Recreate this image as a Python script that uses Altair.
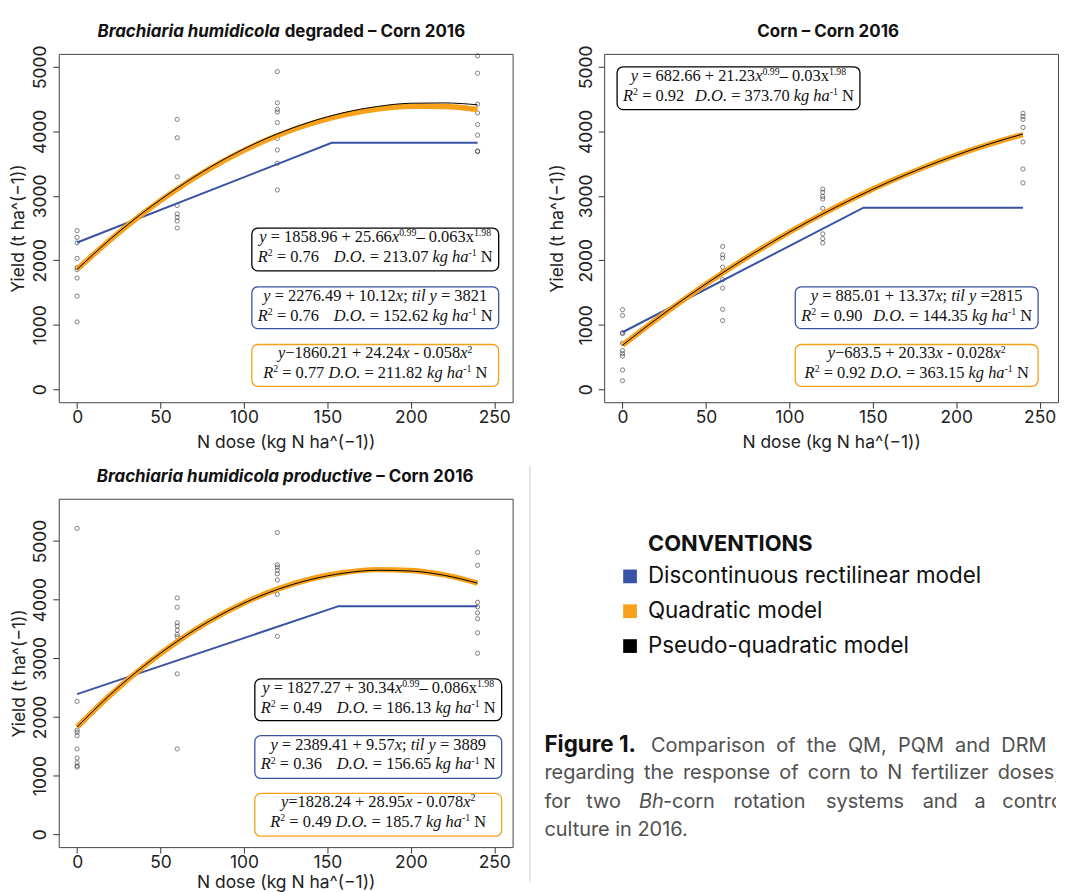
import altair as alt
import pandas as pd

# ---------------- data ----------------
DOSE_LEVELS = [0, 60, 120, 240]
CURVE_X = [0, 20, 40, 60, 80, 100, 120, 140, 160, 180, 200, 220, 240]

# Panel A: Brachiaria humidicola degraded - Corn 2016
a_d0 = [2460, 2355, 2270, 2030, 1885, 1855, 1725, 1445, 1045]
a_d60 = [4185, 3900, 3295, 2850, 2720, 2665, 2610, 2500]
a_d120 = [4925, 4440, 4340, 4300, 4135, 3890, 3710, 3505, 3090]
a_d240 = [5170, 4900, 4420, 4285, 4105, 3940, 3695, 3685]
a_quad = [1860, 2322, 2737, 3106, 3428, 3704, 3934, 4117, 4254, 4344, 4388, 4386, 4337]
a_pseudo = [1859, 2330, 2750, 3120, 3447, 3727, 3960, 4148, 4290, 4385, 4435, 4440, 4410]
a_drm_x = [0, 152.6, 240]
a_drm_y = [2276, 3821, 3821]

# Panel B: Corn - Corn 2016
b_d0 = [1235, 1145, 880, 865, 715, 600, 555, 515, 300, 135]
b_d60 = [2215, 2085, 2035, 1895, 1820, 1700, 1570, 1240, 1065]
b_d120 = [3105, 3055, 2990, 2950, 2805, 2410, 2335, 2270]
b_d240 = [4280, 4230, 4185, 4060, 3835, 3415, 3200]
b_quad = [684, 1079, 1452, 1803, 2131, 2437, 2720, 2981, 3220, 3436, 3630, 3801, 3950]
b_pseudo = [683, 1083, 1457, 1806, 2132, 2437, 2719, 2979, 3218, 3435, 3630, 3805, 3958]
b_drm_x = [0, 144.4, 240]
b_drm_y = [885, 2815, 2815]

# Panel C: Brachiaria humidicola productive - Corn 2016
c_d0 = [5215, 2265, 1775, 1740, 1680, 1455, 1300, 1220, 1165, 1145]
c_d60 = [4030, 3870, 3605, 3550, 3480, 3405, 3365, 2735, 1455]
c_d120 = [5145, 4595, 4555, 4500, 4440, 4335, 4090, 3375]
c_d240 = [4805, 4585, 3955, 3875, 3775, 3675, 3435, 3085]
c_quad = [1828, 2376, 2861, 3284, 3645, 3943, 4179, 4352, 4463, 4512, 4498, 4422, 4283]
c_pseudo = [1827, 2384, 2869, 3289, 3646, 3941, 4173, 4343, 4452, 4501, 4488, 4415, 4281]
c_drm_x = [0, 156.7, 240]
c_drm_y = [2389, 3889, 3889]

# equation texts as (text, style) segments: r = roman, i = italic, s = superscript
R2 = [("R", "i"), ("2", "s")]
KG = [("kg ha", "i"), ("-1", "s"), (" N", "r")]


def pq_eq(a, b, c):
    return [("y", "i"), (" = " + a + " + " + b, "r"), ("x", "i"), ("0.99", "s"),
            ("\u2013 " + c + "x", "r"), ("1.98", "s")]


def drm_eq(a, b, plateau, eq=" = "):
    return [("y", "i"), (" = " + a + " + " + b, "r"), ("x", "i"), ("; ", "r"),
            ("til y", "i"), (eq + plateau, "r")]


def q_eq(sep, a, b, c):
    return [("y", "i"), (sep + a + " + " + b, "r"), ("x", "i"), (" - " + c, "r"),
            ("x", "i"), ("2", "s")]


def r2_left(v):
    return R2 + [(" = " + v, "r")]


def do_right(v):
    return [("D.O.", "i"), (" = " + v + " ", "r")] + KG


def q_line2(r, v):
    return R2 + [(" = " + r + " ", "r"), ("D.O.", "i"), (" = " + v + " ", "r")] + KG


a_eq = [
    [pq_eq("1858.96", "25.66", "0.063"), r2_left("0.76"), do_right("213.07")],
    [drm_eq("2276.49", "10.12", "3821"), r2_left("0.76"), do_right("152.62")],
    [q_eq("\u2212", "1860.21", "24.24", "0.058"), q_line2("0.77", "211.82")],
]
b_eq = [
    [pq_eq("682.66", "21.23", "0.03"), r2_left("0.92"), do_right("373.70")],
    [drm_eq("885.01", "13.37", "2815", eq=" ="), r2_left("0.90"), do_right("144.35")],
    [q_eq("\u2212", "683.5", "20.33", "0.028"), q_line2("0.92", "363.15")],
]
c_eq = [
    [pq_eq("1827.27", "30.34", "0.086"), r2_left("0.49"), do_right("186.13")],
    [drm_eq("2389.41", "9.57", "3889"), r2_left("0.36"), do_right("156.65")],
    [q_eq("=", "1828.24", "28.95", "0.078"), q_line2("0.49", "185.7")],
]

LEGEND_TITLE = "CONVENTIONS"
LEGEND_LABELS = ["Discontinuous rectilinear model", "Quadratic model", "Pseudo-quadratic model"]
CAPTION_LINE1 = ["Comparison", "of", "the", "QM,", "PQM", "and", "DRM"]
CAPTION_LINE2 = ["regarding", "the", "response", "of", "corn", "to", "N", "fertilizer", "doses,"]
CAPTION_LINE3 = ["for", "two", "Bh", "-corn", "rotation", "systems", "and", "a", "control"]
CAPTION_LINE4 = "culture in 2016."

# ---------------- style ----------------
FONT = "Inter"
SERIF = "Liberation Serif"
BLUE = "#3953A4"
ORANGE = "#F7A11A"
BLACK = "#000000"
GREY = "#505050"
W, H = 456, 350
ONE = pd.DataFrame({"k": [0]})
NB = "\u00a0"

# Times / Liberation Serif advance widths (per 1000 em)
REG = {" ": 250, ".": 250, ",": 250, ";": 278, "+": 564, "=": 564, "-": 333, "\u2013": 500,
       "\u2212": 564, "N": 722, "R": 667, "x": 500, "y": 500, "t": 278, "i": 278, "l": 278,
       "k": 500, "g": 500, "h": 500, "a": 444, "D": 722, "O": 722}
ITA = {" ": 250, "y": 444, "x": 444, "R": 611, "D": 722, "O": 722, ".": 250, "k": 444,
       "g": 500, "h": 500, "a": 500, "t": 278, "i": 278, "l": 278}


def txt(s, x, y, size, font=FONT, align="center", baseline="middle", color="#111",
        weight="normal", style="normal", clip=False):
    return alt.Chart(ONE).mark_text(
        text=s, align=align, baseline=baseline, font=font, fontSize=size,
        color=color, fontWeight=weight, fontStyle=style, clip=clip
    ).encode(x=alt.value(x), y=alt.value(y))


def seg_width(text, st, size):
    table = ITA if st == "i" else REG
    sz = size * 0.6 if st == "s" else size
    return sum(table.get(ch, 500) for ch in text) / 1000.0 * sz


def rich(segs, x, y, size, align):
    total = sum(seg_width(t, s, size) for t, s in segs)
    cur = x - total / 2 if align == "center" else (x - total if align == "right" else x)
    out = []
    for t, s in segs:
        sz = size * 0.6 if s == "s" else size
        yy = y - size * 0.36 if s == "s" else y
        lead = len(t) - len(t.lstrip(" "))
        core = t.strip(" ")
        if core:
            out.append(txt(core, cur + lead * seg_width(" ", s, size), yy, sz, font=SERIF,
                           align="left", baseline="alphabetic",
                           style="italic" if s == "i" else "normal"))
        cur += seg_width(t, s, size)
    return out


def box(x0, x1, y0, y1, color):
    return alt.Chart(ONE).mark_rect(
        cornerRadius=6, fill="white", stroke=color, strokeWidth=1.3
    ).encode(x=alt.value(x0), x2=alt.value(x1), y=alt.value(y0), y2=alt.value(y1))


def eq_box(x0, x1, y0, y1, color, lines):
    fs = 16.5
    layers = [box(x0, x1, y0, y1, color)]
    cx = (x0 + x1) / 2
    layers += rich(lines[0], cx, y0 + 14, fs, "center")
    if len(lines) == 3:
        layers += rich(lines[1], x0 + 6, y0 + 34, fs, "left")
        layers += rich(lines[2], x1 - 6, y0 + 34, fs, "right")
    else:
        layers += rich(lines[1], cx, y0 + 34, fs, "center")
    return layers


def panel(cols, quad, pseudo, drm_x, drm_y, ydom, eqs, boxpos, titles, ytp, xtp):
    rows = [(d, v) for d, vals in zip(DOSE_LEVELS, cols) for v in vals]
    pts = pd.DataFrame(rows, columns=["dose", "yield"])
    xs = alt.Scale(domain=[-11, 261], nice=False, zero=False)
    ys = alt.Scale(domain=ydom, nice=False, zero=False)
    xax = alt.Axis(values=[0, 50, 100, 150, 200, 250], title="N dose (kg N ha^(\u22121))",
                   titlePadding=xtp, labelPadding=0, format="d")
    yax = alt.Axis(values=[0, 1000, 2000, 3000, 4000, 5000], title="Yield (t ha^(\u22121))",
                   titlePadding=ytp, labelAngle=-90, labelAlign="center",
                   labelBaseline="bottom", labelPadding=3, format="d")
    layers = [alt.Chart(pts).mark_point(shape="circle", size=18, filled=False, color="#222",
                                        strokeWidth=0.8).encode(
        x=alt.X("dose:Q", scale=xs, axis=xax), y=alt.Y("yield:Q", scale=ys, axis=yax))]
    drm = pd.DataFrame({"dose": drm_x, "yield": drm_y})
    layers.append(alt.Chart(drm).mark_line(color=BLUE, strokeWidth=2).encode(
        x="dose:Q", y="yield:Q"))
    qd = pd.DataFrame({"dose": CURVE_X, "yield": quad})
    layers.append(alt.Chart(qd).mark_line(color=ORANGE, strokeWidth=5.5,
                                          interpolate="monotone").encode(x="dose:Q", y="yield:Q"))
    pq = pd.DataFrame({"dose": CURVE_X, "yield": pseudo})
    layers.append(alt.Chart(pq).mark_line(color=BLACK, strokeWidth=1,
                                          interpolate="monotone").encode(x="dose:Q", y="yield:Q"))
    for (x0, x1, y0, y1), color, lines in zip(boxpos, [BLACK, BLUE, ORANGE], eqs):
        layers += eq_box(x0, x1, y0, y1, color, lines)
    for s, x, align, style in titles:
        layers.append(txt(s, x, -17, 17, align=align, baseline="alphabetic",
                          weight="bold", style=style, color="#111"))
    return alt.layer(*layers).properties(width=W, height=H)


pA = panel([a_d0, a_d60, a_d120, a_d240], a_quad, a_pseudo, a_drm_x, a_drm_y, [-200, 5200], a_eq,
           [(194, 442, 175, 218), (194, 442, 234, 276), (194, 442, 292, 334)],
           [("Brachiaria humidicola", 222, "right", "italic"),
            ("degraded \u2013 Corn 2016", 227, "left", "normal")], 4, 8)
pB = panel([b_d0, b_d60, b_d120, b_d240], b_quad, b_pseudo, b_drm_x, b_drm_y, [-200, 5200], b_eq,
           [(13, 257, 13, 56), (192, 436, 234, 276), (192, 436, 292, 334)],
           [("Corn \u2013 Corn 2016", 225, "center", "normal")], 11, 8)
pC = panel([c_d0, c_d60, c_d120, c_d240], c_quad, c_pseudo, c_drm_x, c_drm_y, [-220, 5720], c_eq,
           [(197, 445, 181, 223), (197, 445, 238, 281), (197, 445, 296, 339)],
           [("Brachiaria humidicola productive", 315, "right", "italic"),
            ("\u2013 Corn 2016", 319, "left", "normal")], 3, 3)

# ---------------- conventions + caption panel ----------------
tl = [alt.Chart(ONE).mark_rule(color="#cfcfcf", strokeWidth=1).encode(
    x=alt.value(0.5), y=alt.value(-33), y2=alt.value(385))]
tl.append(txt(LEGEND_TITLE, 119, 52, 22, align="left", baseline="alphabetic", weight="bold"))
for lab, col, yy in zip(LEGEND_LABELS, [BLUE, ORANGE, BLACK], [78, 113, 148]):
    tl.append(alt.Chart(ONE).mark_square(size=190, color=col, opacity=1).encode(
        x=alt.value(101), y=alt.value(yy)))
    tl.append(txt(lab, 119, yy, 22.5, align="left", baseline="middle"))
CAP = 20
tl.append(txt("Figure 1.", 15, 254, 22.5, align="left", baseline="alphabetic", weight="bold"))
tl.append(txt((" " + NB).join(CAPTION_LINE1), 122, 254, CAP, align="left",
              baseline="alphabetic", color=GREY, clip=True))
tl.append(txt((" " + "\u2009").join(CAPTION_LINE2), 15, 282, CAP, align="left",
              baseline="alphabetic", color=GREY, clip=True))
for w, x, st in zip(CAPTION_LINE3, [15, 57, 110, 134, 205, 298, 395, 447, 475],
                    ["normal", "normal", "italic"] + ["normal"] * 6):
    tl.append(txt(w, x, 311, CAP, align="left", baseline="alphabetic", color=GREY, style=st,
                  clip=True))
tl.append(txt(CAPTION_LINE4, 15, 339, CAP, align="left", baseline="alphabetic", color=GREY))
pT = alt.layer(*tl).properties(width=529, height=H, view=alt.ViewBackground(strokeOpacity=0))

chart = alt.vconcat(
    alt.hconcat(pA, pB, spacing=34),
    alt.hconcat(pC, pT, spacing=16),
    spacing=13,
).properties(
    padding={"left": 1, "top": 12, "right": 0, "bottom": 0},
    background="white",
).configure_axis(
    labelFont=FONT, labelFontSize=17.5, titleFont=FONT, titleFontSize=17.5,
    titleFontWeight="normal", tickSize=6, tickColor="#333", domain=False, grid=False,
    labelColor="#222", titleColor="#222",
).configure_view(stroke="#444", strokeWidth=1)

chart.save("out.html", embed_options={"renderer": "svg", "actions": False})
